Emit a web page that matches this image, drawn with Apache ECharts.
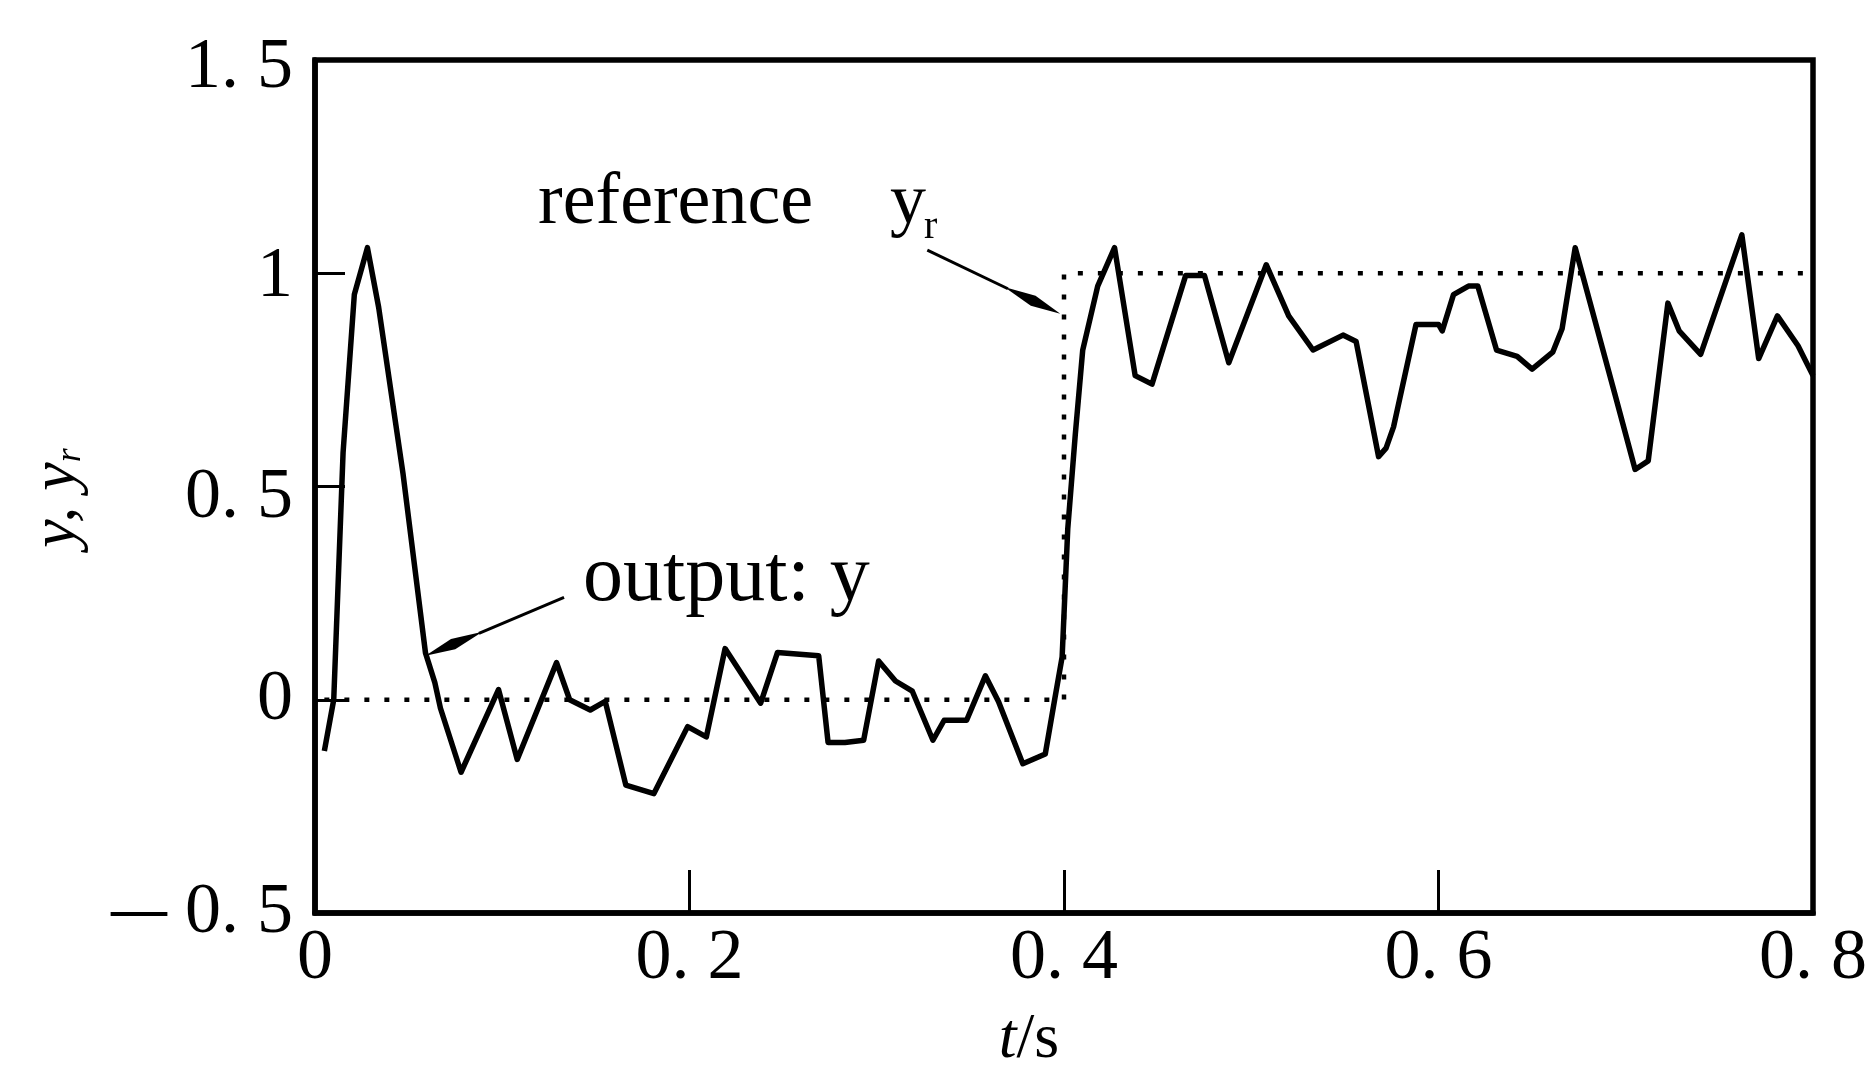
<!DOCTYPE html>
<html>
<head>
<meta charset="utf-8">
<script src="https://cdn.jsdelivr.net/npm/echarts@6/dist/echarts.min.js"></script>
<style>
html,body{margin:0;padding:0;background:#fff;}
#chart{width:1876px;height:1070px;}
</style>
</head>
<body>
<div id="chart"></div>
<script>
// ---- data ----
const outputT = [0.005,0.010,0.015,0.021,0.028,0.034,0.047,0.059,0.064,0.067,0.078,0.098,0.108,0.129,0.136,0.147,0.155,0.166,0.181,0.199,0.209,0.219,0.238,0.247,0.269,0.274,0.283,0.293,0.301,0.310,0.319,0.330,0.336,0.348,0.358,0.365,0.378,0.390,0.395,0.399,0.402,0.406,0.410,0.418,0.427,0.438,0.447,0.465,0.475,0.488,0.508,0.520,0.533,0.549,0.556,0.568,0.572,0.576,0.588,0.600,0.602,0.608,0.616,0.621,0.631,0.642,0.650,0.661,0.666,0.673,0.694,0.705,0.712,0.7225,0.7285,0.740,0.762,0.771,0.781,0.792,0.800];
const outputY = [-0.12,0.00,0.58,0.95,1.06,0.92,0.53,0.11,0.04,-0.02,-0.17,0.024,-0.14,0.087,0.0,-0.024,-0.004,-0.20,-0.22,-0.063,-0.087,0.12,-0.008,0.111,0.103,-0.10,-0.10,-0.095,0.091,0.044,0.02,-0.095,-0.048,-0.048,0.056,-0.004,-0.15,-0.127,0.0,0.10,0.40,0.62,0.82,0.97,1.06,0.76,0.74,0.995,0.995,0.79,1.02,0.90,0.82,0.855,0.84,0.57,0.59,0.64,0.88,0.88,0.865,0.95,0.97,0.97,0.82,0.805,0.775,0.815,0.87,1.06,0.72,0.54,0.56,0.93,0.865,0.81,1.09,0.80,0.90,0.83,0.76];
const refT = [0.005,0.4,0.4,0.8];
const refY = [0,0,1,1];
const xTickLabels = ['0','0. 2','0. 4','0. 6','0. 8'];
const yTickLabels = ['\u2014 0. 5','0','0. 5','1','1. 5'];
// annotation arrows: [tStart, yStart, tTip, yTip]
const arrowRef = [0.327, 1.054, 0.398, 0.905];
const arrowOut = [0.133, 0.240, 0.059, 0.103];

// ---- styling ----
const FONT = '"Liberation Serif","Times New Roman",serif';
const yLabelNudge = [0, 0, 12, 4, 8]; // px downward shift per y label (scan offset)
const yRich = {d:{fontFamily:FONT,fontSize:56,fontWeight:'bold',color:'#000'}};
yLabelNudge.forEach((n,i)=>{
  yRich['s'+i] = {fontFamily:FONT,fontSize:72,color:'#000',padding:[Math.max(0,2*n),0,Math.max(0,-2*n),0]};
  yRich['d'+i] = {fontFamily:FONT,fontSize:56,fontWeight:'bold',color:'#000',padding:[Math.max(0,2*n),0,Math.max(0,-2*n),0]};
});

const chart = echarts.init(document.getElementById('chart'), null, {renderer:'canvas'});

function arrowRender(params, api){
  const p1 = api.coord([api.value(0), api.value(1)]);
  const p2 = api.coord([api.value(2), api.value(3)]);
  const dx = p2[0]-p1[0], dy = p2[1]-p1[1];
  const L = Math.sqrt(dx*dx+dy*dy);
  const ux = dx/L, uy = dy/L, nx = -uy, ny = ux;
  const headLen = 62, widePos = 30, halfW = 5.5;
  const back = [p2[0]-ux*headLen, p2[1]-uy*headLen];
  const mid = [p2[0]-ux*widePos, p2[1]-uy*widePos];
  return {
    type:'group',
    children:[
      {type:'line', shape:{x1:p1[0],y1:p1[1],x2:back[0]+ux*4,y2:back[1]+uy*4}, style:{stroke:'#000',lineWidth:3}},
      {type:'polygon', shape:{points:[p2,[mid[0]+nx*halfW,mid[1]+ny*halfW],back,[mid[0]-nx*halfW,mid[1]-ny*halfW]]}, style:{fill:'#000'}}
    ]
  };
}

const option = {
  backgroundColor:'#fff',
  animation:false,
  grid:{left:315,right:63,top:60,bottom:157,show:true,borderColor:'#000',borderWidth:5.5,backgroundColor:'transparent',outerBoundsMode:'none',containLabel:false},
  xAxis:{
    type:'value',min:0,max:0.8,interval:0.2,
    axisLine:{show:true,onZero:false,lineStyle:{color:'#000',width:5.5}},
    axisTick:{show:true,inside:true,length:43,lineStyle:{color:'#000',width:3}},
    splitLine:{show:false},
    axisLabel:{margin:10,color:'#000',fontFamily:FONT,fontSize:72,
      formatter:function(v,i){return xTickLabels[i];}}
  },
  yAxis:{
    type:'value',min:-0.5,max:1.5,interval:0.5,
    axisLine:{show:true,onZero:false,lineStyle:{color:'#000',width:5.5}},
    axisTick:{show:true,inside:true,length:30,lineStyle:{color:'#000',width:3}},
    splitLine:{show:false},
    axisLabel:{margin:22,color:'#000',fontFamily:FONT,fontSize:72,
      rich:yRich,
      formatter:function(v,i){
        const t = yTickLabels[i];
        if (t.charAt(0)==='\u2014') return '{d'+i+'|\u2014}{s'+i+'|'+t.slice(1)+'}';
        return '{s'+i+'|'+t+'}';
      }}
  },
  series:[
    {
      name:'reference', type:'line', showSymbol:false, z:2,
      data: refT.map((t,i)=>[t,refY[i]]),
      lineStyle:{color:'#000',width:4.5,type:[5,15],cap:'butt'}
    },
    {
      name:'output', type:'line', showSymbol:false, z:3,
      data: outputT.map((t,i)=>[t,outputY[i]]),
      lineStyle:{color:'#000',width:5.5,join:'round'}
    },
    {
      name:'arrows', type:'custom', z:4, clip:false,
      renderItem: arrowRender,
      data:[arrowRef, arrowOut]
    }
  ],
  graphic:[
    {type:'text', x:538, y:204, style:{text:'reference', font:'74px '+FONT, fill:'#000', align:'left', verticalAlign:'middle'}},
    {type:'text', x:890, y:204, style:{text:'y', font:'72px '+FONT, fill:'#000', align:'left', verticalAlign:'middle'}},
    {type:'text', x:924, y:227, style:{text:'r', font:'40px '+FONT, fill:'#000', align:'left', verticalAlign:'middle'}},
    {type:'text', x:583, y:579, style:{text:'output: y', font:'80px '+FONT, fill:'#000', align:'left', verticalAlign:'middle'}},
    {type:'text', x:1029, y:1040, style:{
      text:'{i|t}{n|/s}', align:'center', verticalAlign:'middle',
      rich:{i:{fontFamily:FONT,fontSize:64,fontStyle:'italic',fill:'#000'},n:{fontFamily:FONT,fontSize:64,fill:'#000'}}}},
    {type:'text', x:57, y:498, rotation:Math.PI/2, style:{
      text:'{i|y, y}{s|r}', align:'center', verticalAlign:'middle',
      rich:{i:{fontFamily:FONT,fontSize:64,fontStyle:'italic',fill:'#000',lineHeight:64},
            s:{fontFamily:FONT,fontSize:36,fontStyle:'italic',fill:'#000',lineHeight:64,verticalAlign:'bottom',padding:[14,0,0,0]}}}}
  ]
};
chart.setOption(option);
</script>
</body>
</html>
